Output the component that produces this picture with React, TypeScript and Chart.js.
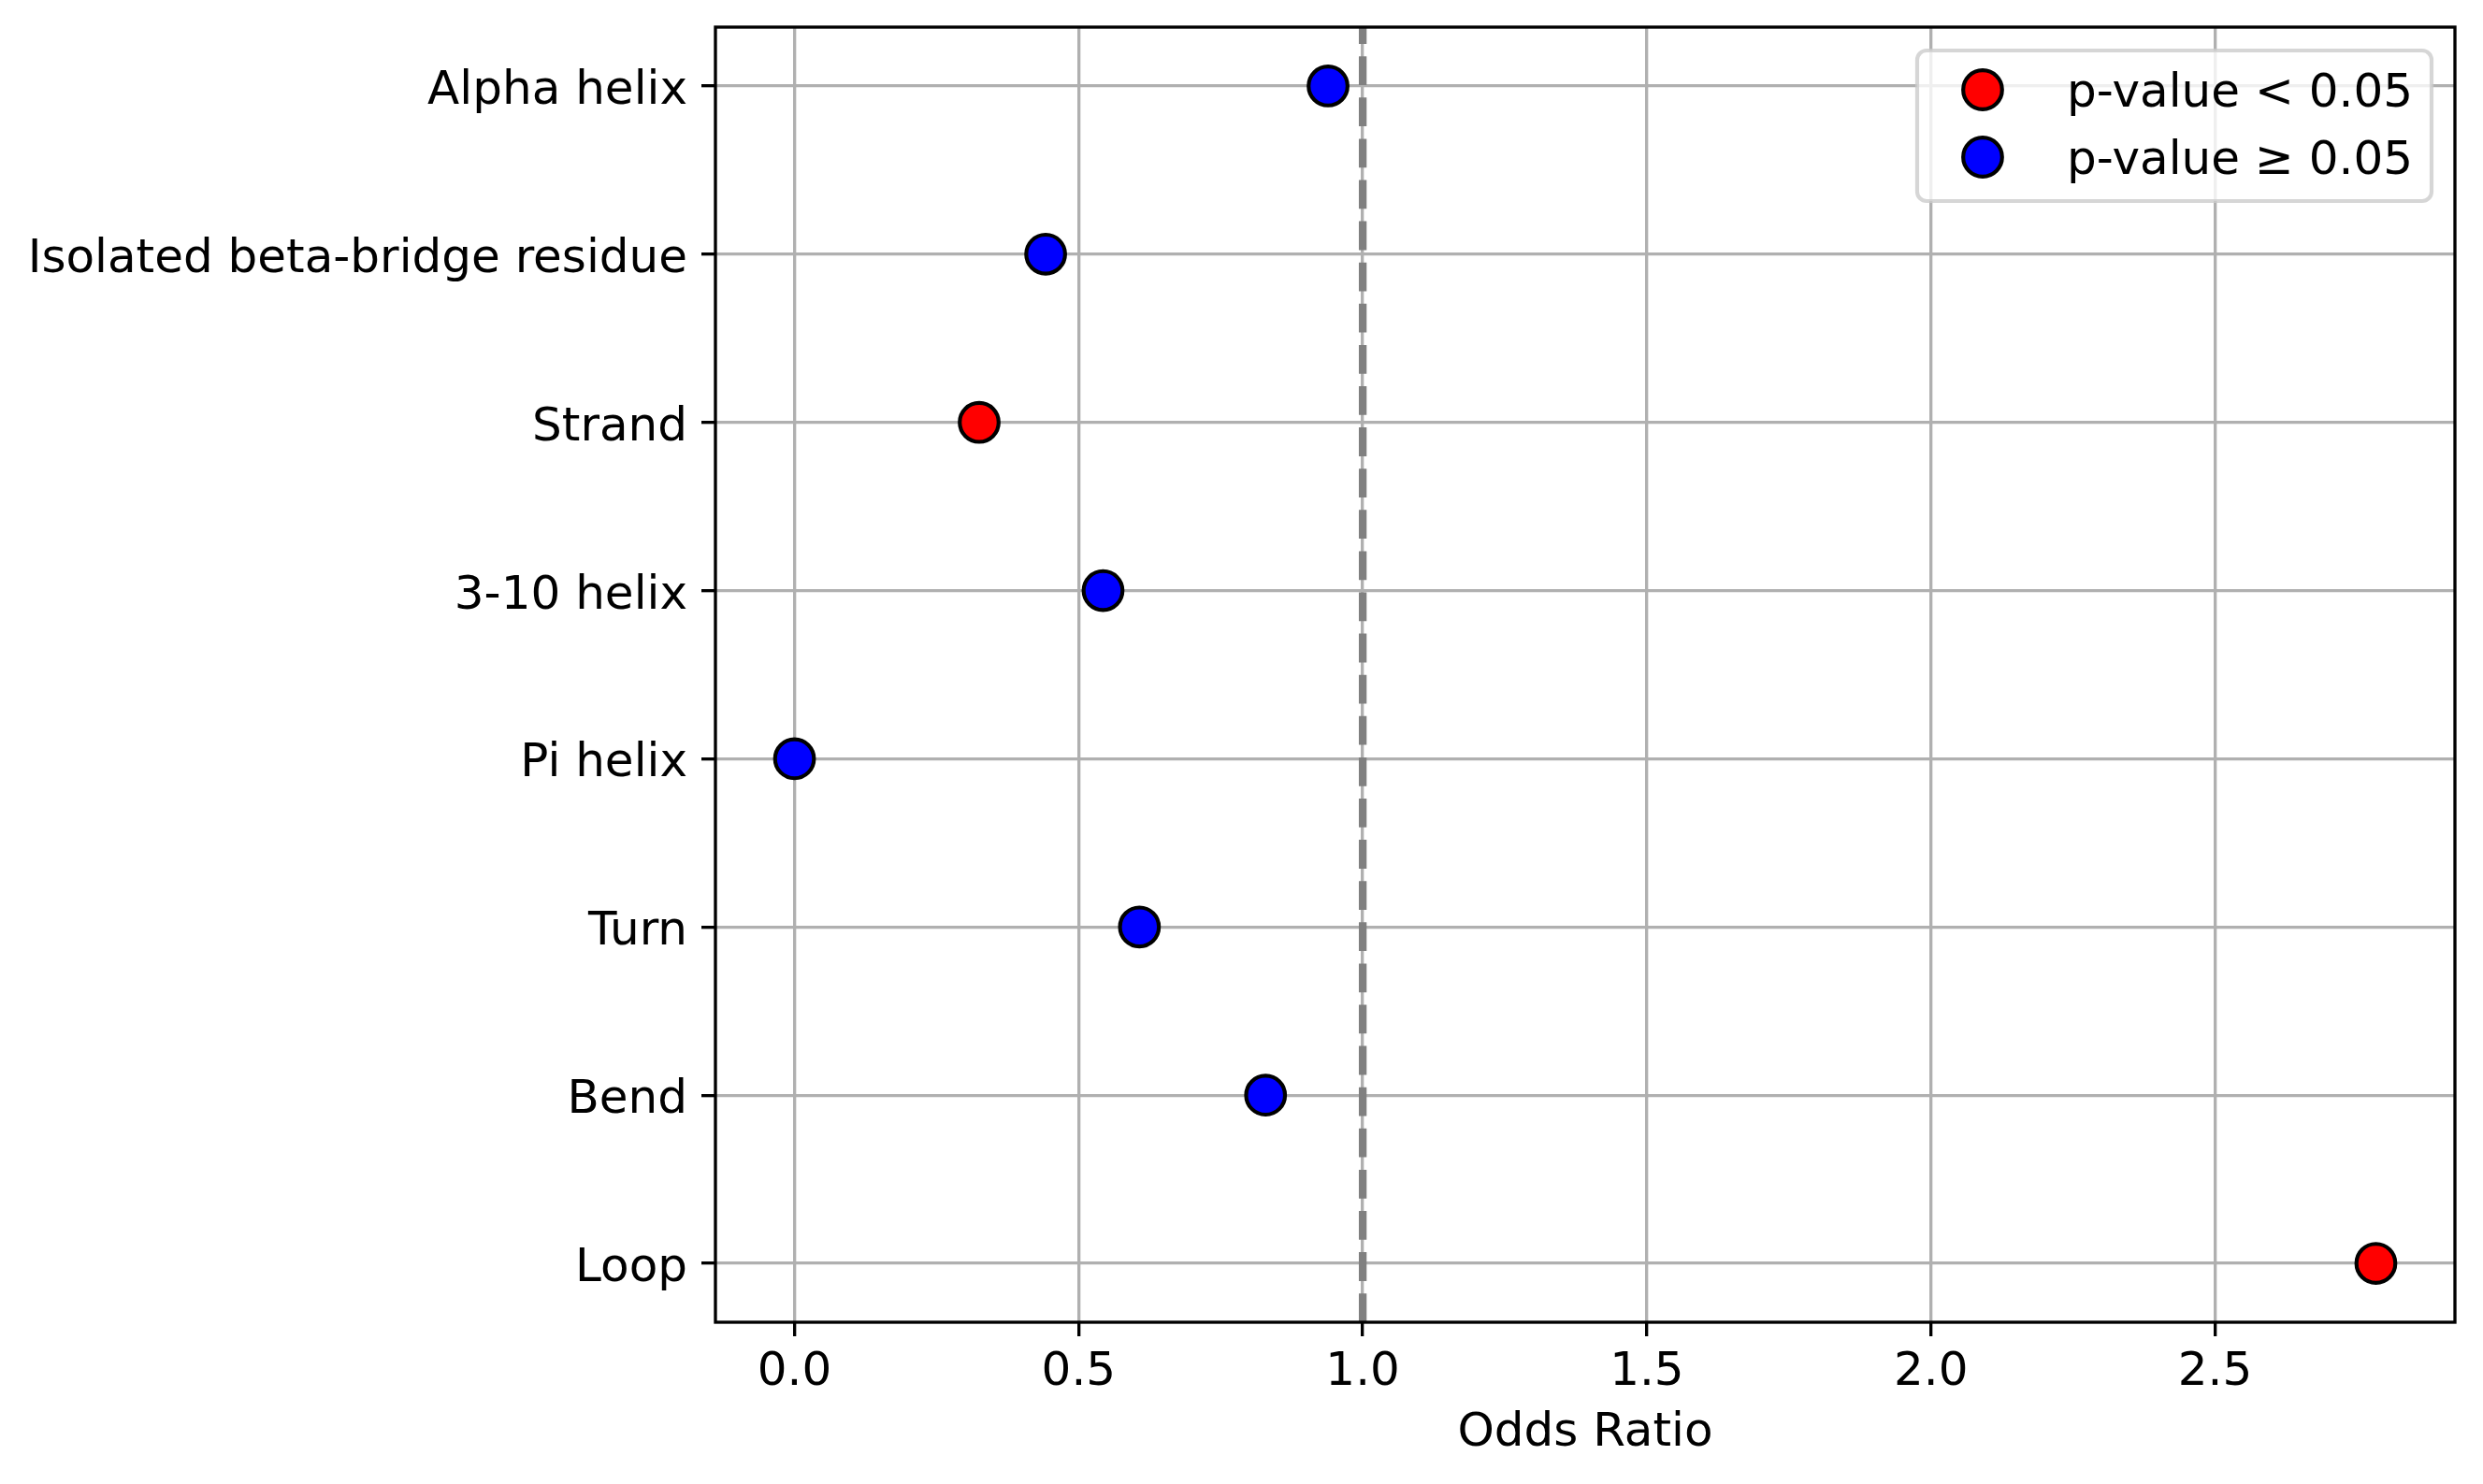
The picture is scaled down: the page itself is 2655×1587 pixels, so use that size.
import React, { useEffect, useRef } from "react";
import { Chart, registerables } from "chart.js";

Chart.register(...registerables);

// Secondary structure categories, top to bottom
const CATEGORIES = [
  "Alpha helix",
  "Isolated beta-bridge residue",
  "Strand",
  "3-10 helix",
  "Pi helix",
  "Turn",
  "Bend",
  "Loop",
];
const ODDS_RATIOS = [0.939, 0.442, 0.325, 0.543, 0.0, 0.607, 0.829, 2.783];
const SIGNIFICANT = [false, false, true, false, false, false, false, true];
const LEGEND_LABELS = ["p-value < 0.05", "p-value \u2265 0.05"];
const X_TICK_STEP = 0.5;
const REFERENCE_LINE = 1.0;

const FONT = "'DejaVu Sans', sans-serif";
const W = 2655;
const H = 1587;

const overlayPlugin = {
  id: "overlay",
  afterDraw(chart: any) {
    const { ctx, chartArea: a, scales } = chart;

    // dashed reference line at OR = 1
    const rx = scales.x.getPixelForValue(REFERENCE_LINE);
    ctx.save();
    ctx.beginPath();
    ctx.rect(a.left, a.top, a.right - a.left, a.bottom - a.top);
    ctx.clip();
    ctx.setLineDash([30.8, 13.3]);
    ctx.lineWidth = 8.33;
    ctx.strokeStyle = "#808080";
    ctx.beginPath();
    ctx.moveTo(rx, a.bottom);
    ctx.lineTo(rx, a.top);
    ctx.stroke();
    ctx.restore();

    // axes frame
    ctx.save();
    ctx.lineWidth = 3.33;
    ctx.strokeStyle = "#000";
    ctx.strokeRect(a.left, a.top, a.right - a.left, a.bottom - a.top);
    ctx.restore();

    // legend box, upper right
    ctx.save();
    ctx.font = `50px ${FONT}`;
    const datasets = chart.data.datasets;
    const textW = Math.max(...datasets.map((d: any) => ctx.measureText(d.label).width));
    const boxW = 20 + 100 + 40 + textW + 20;
    const boxH = 161;
    const right = a.right - 25;
    const top = a.top + 25;
    const left = right - boxW;
    ctx.beginPath();
    ctx.roundRect(left, top, boxW, boxH, 10);
    ctx.fillStyle = "rgba(255,255,255,0.8)";
    ctx.fill();
    ctx.lineWidth = 4.17;
    ctx.strokeStyle = "rgba(204,204,204,0.8)";
    ctx.stroke();

    datasets.forEach((d: any, i: number) => {
      const cy = top + 42 + i * 72;
      ctx.beginPath();
      ctx.arc(left + 70, cy, 20.8, 0, Math.PI * 2);
      ctx.fillStyle = d.backgroundColor;
      ctx.fill();
      ctx.lineWidth = 4.17;
      ctx.strokeStyle = "#000";
      ctx.stroke();
      ctx.fillStyle = "#000";
      ctx.textBaseline = "alphabetic";
      ctx.textAlign = "left";
      ctx.fillText(d.label, left + 160, cy + 17.5);
    });
    ctx.restore();
  },
};

export default function App() {
  const canvasRef = useRef<HTMLCanvasElement | null>(null);

  useEffect(() => {
    if (!canvasRef.current) return;

    const points = CATEGORIES.map((_, i) => ({ x: ODDS_RATIOS[i], y: i }));
    const sigPoints = points.filter((_, i) => SIGNIFICANT[i]);
    const nsPoints = points.filter((_, i) => !SIGNIFICANT[i]);

    // matplotlib-style 5% margins
    const xLo = Math.min(...ODDS_RATIOS);
    const xHi = Math.max(...ODDS_RATIOS);
    const xPad = (xHi - xLo) * 0.05;
    const yPad = (CATEGORIES.length - 1) * 0.05;

    const pointStyle = {
      pointRadius: 20.8,
      pointHoverRadius: 20.8,
      pointBorderColor: "#000",
      pointBorderWidth: 4.17,
      pointHoverBorderWidth: 4.17,
      showLine: false,
    };

    const chart = new Chart(canvasRef.current, {
      type: "scatter",
      data: {
        datasets: [
          {
            label: LEGEND_LABELS[0],
            data: sigPoints,
            backgroundColor: "#ff0000",
            pointBackgroundColor: "#ff0000",
            ...pointStyle,
          },
          {
            label: LEGEND_LABELS[1],
            data: nsPoints,
            backgroundColor: "#0000ff",
            pointBackgroundColor: "#0000ff",
            ...pointStyle,
          },
        ],
      },
      options: {
        animation: false,
        responsive: false,
        devicePixelRatio: 1,
        events: [],
        layout: {
          autoPadding: false,
          padding: { top: 29, right: 30, left: 0, bottom: 0 },
        },
        plugins: {
          legend: { display: false },
          tooltip: { enabled: false },
        },
        scales: {
          x: {
            type: "linear",
            z: 1,
            min: xLo - xPad,
            max: xHi + xPad,
            afterFit: (scale: any) => {
              scale.height = 173;
              scale.paddingLeft = 0;
              scale.paddingRight = 0;
            },
            border: { display: false },
            grid: {
              color: "#b0b0b0",
              lineWidth: 3.33,
              tickColor: "#000",
              tickLength: 15,
              tickWidth: 3.33,
            },
            ticks: {
              stepSize: X_TICK_STEP,
              includeBounds: false,
              padding: 9,
              color: "#000",
              font: { family: FONT, size: 50 },
              callback: (v: any) => Number(v).toFixed(1),
            },
            title: {
              display: true,
              text: "Odds Ratio",
              color: "#000",
              font: { family: FONT, size: 50 },
              padding: { top: 0, bottom: 24 },
            },
          },
          y: {
            type: "linear",
            z: 1,
            reverse: true,
            min: -yPad,
            max: CATEGORIES.length - 1 + yPad,
            afterFit: (scale: any) => {
              scale.width = 765;
              scale.paddingTop = 0;
              scale.paddingBottom = 0;
            },
            border: { display: false },
            grid: {
              color: "#b0b0b0",
              lineWidth: 3.33,
              tickColor: "#000",
              tickLength: 15,
              tickWidth: 3.33,
            },
            ticks: {
              stepSize: 1,
              includeBounds: false,
              padding: 15,
              labelOffset: 6,
              color: "#000",
              font: { family: FONT, size: 50 },
              callback: (v: any) =>
                Number.isInteger(v) ? CATEGORIES[v] ?? "" : "",
            },
          },
        },
      },
      plugins: [overlayPlugin],
    });

    return () => {
      chart.destroy();
    };
  }, []);

  return (
    <div
      style={{
        position: "fixed",
        left: 0,
        top: 0,
        width: W,
        height: H,
        background: "#fff",
      }}
    >
      <canvas
        ref={canvasRef}
        width={W}
        height={H}
        style={{ display: "block", width: W, height: H }}
      />
    </div>
  );
}
